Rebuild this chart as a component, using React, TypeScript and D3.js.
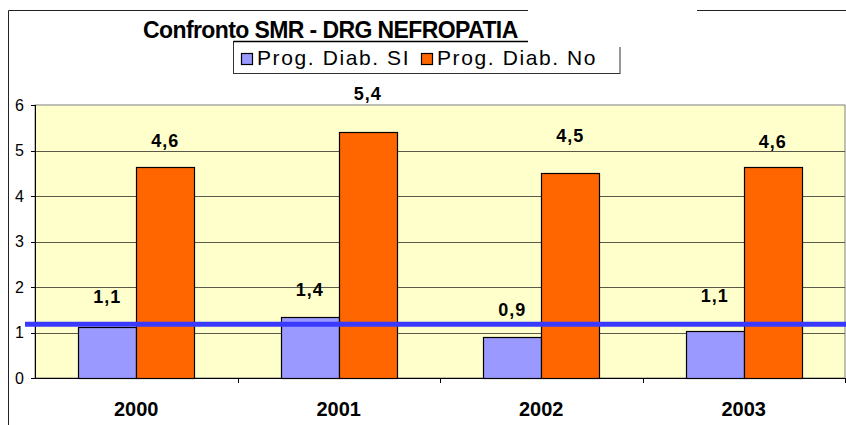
import React from "react";
import * as d3 from "d3";

const categories = ["2000", "2001", "2002", "2003"];
const seriesNames = ["Prog. Diab. SI", "Prog. Diab. No"];
const valuesSI = [1.12, 1.35, 0.91, 1.04];
const valuesNo = [4.64, 5.4, 4.5, 4.64];
const labelsSI = ["1,1", "1,4", "0,9", "1,1"];
const labelsNo = ["4,6", "5,4", "4,5", "4,6"];
const yTicks = [0, 1, 2, 3, 4, 5, 6];
const refLine = 1.18;

// layout constants (pixel lifts of the data labels above bar tops)
const liftSI = [31, 27, 27, 35];
const liftNo = [26, 39, 38, 25];

const W = 846;
const H = 425;
const plotL = 35;
const plotR = 845;
const plotT = 105;
const plotB = 378;

const colors = ["#9999FF", "#FF6600"];

export default function App() {
  const x = d3.scaleBand<string>().domain(categories).range([plotL, plotR]).paddingInner(0).paddingOuter(0);
  const y = d3.scaleLinear().domain([0, 6]).range([plotB, plotT]);
  const barW = 58;
  const font = "Liberation Sans, Arial, sans-serif";

  const series = [valuesSI, valuesNo];
  const labels = [labelsSI, labelsNo];
  const lifts = [liftSI, liftNo];

  return (
    <svg width={W} height={H} style={{ position: "absolute", left: 0, top: 0, background: "#fff" }}>
      <rect x={0} y={0} width={W} height={H} fill="#fff" />
      {/* outer frame */}
      <line x1={8.5} y1={10.5} x2={W} y2={10.5} stroke="#222" strokeWidth={1} />
      <line x1={8.5} y1={10.5} x2={8.5} y2={H} stroke="#222" strokeWidth={1} />

      {/* plot area */}
      <rect x={plotL} y={plotT} width={plotR - plotL} height={plotB - plotT} fill="#FFFFCC" stroke="#808080" strokeWidth={1} />
      {yTicks.filter((t) => t > 0 && t < 6).map((t) => (
        <line key={t} x1={plotL} x2={plotR} y1={Math.round(y(t)) + 0.5} y2={Math.round(y(t)) + 0.5} stroke="#5a5a4a" strokeWidth={1} />
      ))}

      {/* bars */}
      {categories.map((c, i) => {
        const cx = (x(c) as number) + x.bandwidth() / 2;
        return series.map((s, k) => {
          const bx = cx - barW + k * barW;
          const top = y(s[i]);
          return (
            <rect key={c + k} x={Math.round(bx) + 0.5} y={Math.round(top) + 0.5} width={barW} height={plotB - Math.round(top)} fill={colors[k]} stroke="#000" strokeWidth={1.2} />
          );
        });
      })}

      {/* axes */}
      <line x1={plotL + 0.5} x2={plotL + 0.5} y1={plotT} y2={plotB} stroke="#000" />
      <line x1={plotL} x2={plotR} y1={plotB + 0.5} y2={plotB + 0.5} stroke="#000" />
      {yTicks.map((t) => (
        <g key={t}>
          <line x1={plotL - 4} x2={plotL} y1={Math.round(y(t)) + 0.5} y2={Math.round(y(t)) + 0.5} stroke="#000" />
          <text x={24} y={y(t) + 5.5} textAnchor="end" fontFamily={font} fontSize={16} fill="#000">{t}</text>
        </g>
      ))}
      {categories.map((c) => (
        <line key={c} x1={Math.round((x(c) as number) + x.bandwidth()) + 0.5} x2={Math.round((x(c) as number) + x.bandwidth()) + 0.5} y1={plotB} y2={plotB + 5} stroke="#000" />
      ))}
      {categories.map((c) => (
        <text key={c} x={(x(c) as number) + x.bandwidth() / 2} y={416} textAnchor="middle" fontFamily={font} fontWeight="bold" fontSize={20} fill="#000">{c}</text>
      ))}

      {/* data labels */}
      {categories.map((c, i) => {
        const cx = (x(c) as number) + x.bandwidth() / 2;
        return series.map((s, k) => (
          <text key={"l" + c + k} x={cx - barW / 2 + k * barW} y={y(s[i]) - lifts[k][i] + 6.5} textAnchor="middle" fontFamily={font} fontWeight="bold" fontSize={18} letterSpacing={1} fill="#000">{labels[k][i]}</text>
        ));
      })}

      {/* reference line */}
      <line x1={25} x2={W} y1={y(refLine)} y2={y(refLine)} stroke="#3A3AFF" strokeWidth={5} />

      {/* title */}
      <text x={143} y={38} fontFamily={font} fontWeight="bold" fontSize={23} letterSpacing={-0.6} fill="#000">Confronto SMR - DRG NEFROPATIA</text>

      {/* legend */}
      <rect x={233.5} y={41.5} width={386.5} height={32} fill="#fff" stroke="#333" strokeWidth={1} />
      <line x1={233.5} x2={528} y1={41.5} y2={41.5} stroke="#000" strokeWidth={1.5} />
      {seriesNames.map((n, k) => {
        const sx = k === 0 ? 241 : 421;
        return (
          <g key={n}>
            <rect x={sx + 0.5} y={53.5} width={11} height={11} fill={colors[k]} stroke="#000" strokeWidth={1.2} />
            <text x={sx + 16} y={65} fontFamily={font} fontSize={21} letterSpacing={1.6} fill="#000">{n}</text>
          </g>
        );
      })}

      {/* white mask covering title tail */}
      <rect x={528} y={0} width={169} height={47} fill="#fff" />
    </svg>
  );
}
